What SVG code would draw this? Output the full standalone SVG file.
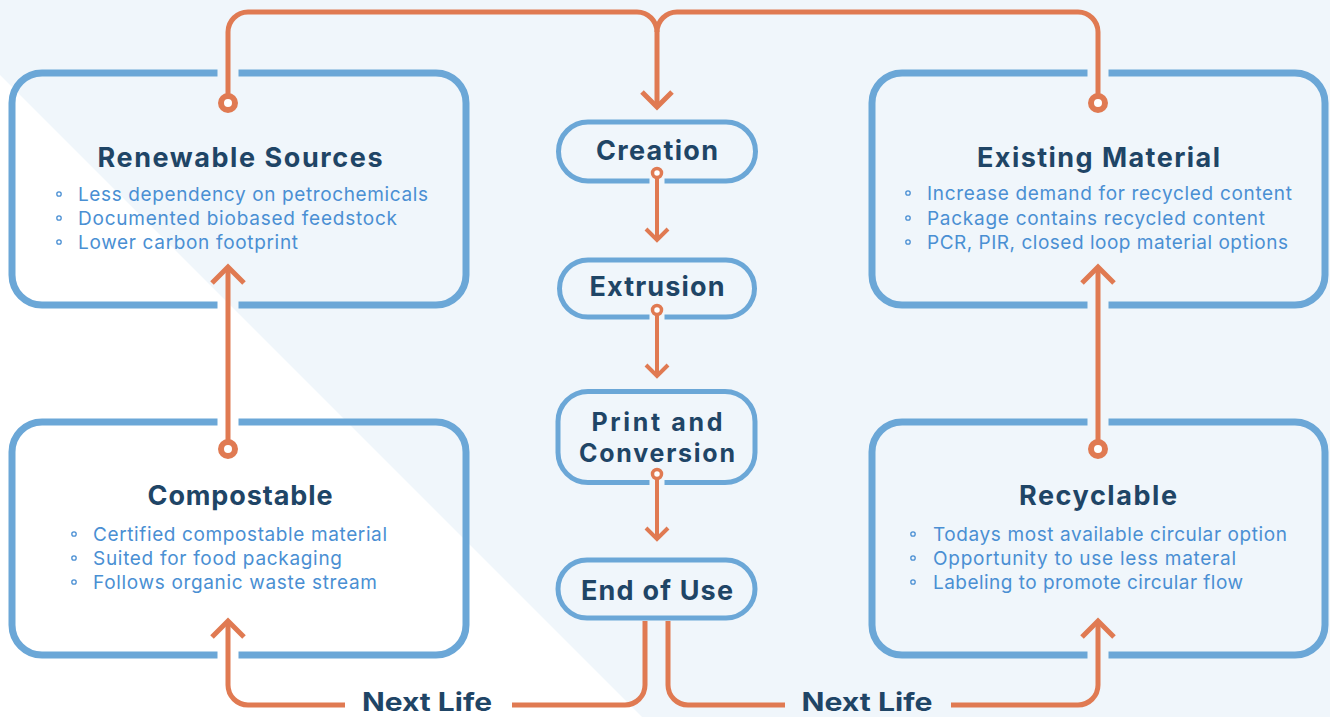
<svg xmlns="http://www.w3.org/2000/svg" width="1330" height="717" viewBox="0 0 1330 717">
<style>
.box{fill:none;stroke:#6ba7d7;stroke-width:7;stroke-linecap:butt}
.pill{fill:none;stroke:#6ba7d7;stroke-width:5}
.con{fill:none;stroke:#e07a52;stroke-width:5;stroke-linecap:butt;stroke-linejoin:miter}
.con4{fill:none;stroke:#e07a52;stroke-width:4;stroke-linejoin:miter}
.dot{fill:#ffffff;stroke:#e07a52;stroke-width:6}
.sdot{fill:#ffffff;stroke:#e07a52;stroke-width:3.5}
.title{font-family:Inter,"Liberation Sans",sans-serif;font-weight:700;font-size:27px;fill:#1f4566;text-anchor:middle}
.ptitle{font-family:Inter,"Liberation Sans",sans-serif;font-weight:700;font-size:25px;fill:#1f4566;text-anchor:middle}
.ntext{font-family:Inter,"Liberation Sans",sans-serif;font-weight:700;font-size:25px;fill:#1f4566;text-anchor:middle}
.bul{font-family:Inter,"Liberation Sans",sans-serif;font-size:19px;fill:#4a8fd3}
.bdot{fill:none;stroke:#4a8fd3;stroke-width:1.3}
</style>
<rect x="0" y="0" width="1330" height="717" fill="#f0f6fb"/>
<polygon points="0,75 642,717 0,717" fill="#ffffff"/>

<g id="connectors">
  <path class="con" d="M228,103 V32 A20,20 0 0 1 248,12 H637 A20,20 0 0 1 657,32 V106"/>
  <path class="con" d="M1098,103 V32 A20,20 0 0 0 1078,12 H677 A20,20 0 0 0 657,32"/>
  <polyline class="con" points="642,92 657,107 672,92"/>

  <path class="con4" d="M657,173 V239"/>
  <polyline class="con4" points="646,229 657,240 668,229"/>
  <path class="con4" d="M657,310 V375"/>
  <polyline class="con4" points="646,365 657,376 668,365"/>
  <path class="con4" d="M657,474 V538"/>
  <polyline class="con4" points="646,528 657,539 668,528"/>

  <path class="con" d="M228,449 V268"/>
  <polyline class="con" points="212,283 228,267 244,283"/>
  <path class="con" d="M1098,449 V268"/>
  <polyline class="con" points="1082,283 1098,267 1114,283"/>

  <path class="con" d="M645,621 V685 A20,20 0 0 1 625,705 H512 M345,705 H248 A20,20 0 0 1 228,685 V621"/>
  <polyline class="con" points="212,637 228,621 244,637"/>
  <path class="con" d="M668,621 V685 A20,20 0 0 0 688,705 H785 M951,705 H1078 A20,20 0 0 0 1098,685 V621"/>
  <polyline class="con" points="1082,637 1098,621 1114,637"/>

  <text class="ntext" x="427" y="711" textLength="130" lengthAdjust="spacingAndGlyphs">Next Life</text>
  <text class="ntext" x="867" y="711" textLength="131" lengthAdjust="spacingAndGlyphs">Next Life</text>
</g>

<g id="renewable">
  <path class="box" d="M238.5,73 H436 A30,30 0 0 1 466,103 V275 A30,30 0 0 1 436,305 H238.5 M217.5,305 H42 A30,30 0 0 1 12,275 V103 A30,30 0 0 1 42,73 H217.5"/>
  <circle class="dot" cx="228" cy="103" r="7"/>
  <text class="title" x="240" y="167" textLength="285">Renewable Sources</text>
  <circle class="bdot" cx="59" cy="194" r="2.2"/>
  <circle class="bdot" cx="59" cy="218" r="2.2"/>
  <circle class="bdot" cx="59" cy="242" r="2.2"/>
  <text class="bul" x="78" y="201" textLength="350">Less dependency on petrochemicals</text>
  <text class="bul" x="78" y="225" textLength="319">Documented biobased feedstock</text>
  <text class="bul" x="78" y="249" textLength="220">Lower carbon footprint</text>
</g>

<g id="existing">
  <path class="box" d="M1108.5,73 H1295 A30,30 0 0 1 1325,103 V275 A30,30 0 0 1 1295,305 H1108.5 M1087.5,305 H902 A30,30 0 0 1 872,275 V103 A30,30 0 0 1 902,73 H1087.5"/>
  <circle class="dot" cx="1098" cy="103" r="7"/>
  <text class="title" x="1098.5" y="167" textLength="243">Existing Material</text>
  <circle class="bdot" cx="908" cy="193" r="2.2"/>
  <circle class="bdot" cx="908" cy="218" r="2.2"/>
  <circle class="bdot" cx="908" cy="242" r="2.2"/>
  <text class="bul" x="927" y="200" textLength="365">Increase demand for recycled content</text>
  <text class="bul" x="927" y="225" textLength="338">Package contains recycled content</text>
  <text class="bul" x="927" y="249" textLength="361">PCR, PIR, closed loop material options</text>
</g>

<g id="compostable">
  <path class="box" d="M238.5,422 H436 A30,30 0 0 1 466,452 V625 A30,30 0 0 1 436,655 H238.5 M217.5,655 H42 A30,30 0 0 1 12,625 V452 A30,30 0 0 1 42,422 H217.5"/>
  <circle class="dot" cx="228" cy="449" r="7"/>
  <text class="title" x="240" y="505" textLength="185">Compostable</text>
  <circle class="bdot" cx="74" cy="534" r="2.2"/>
  <circle class="bdot" cx="74" cy="558" r="2.2"/>
  <circle class="bdot" cx="74" cy="582" r="2.2"/>
  <text class="bul" x="93" y="541" textLength="294">Certified compostable material</text>
  <text class="bul" x="93" y="565" textLength="249">Suited for food packaging</text>
  <text class="bul" x="93" y="589" textLength="284">Follows organic waste stream</text>
</g>

<g id="recyclable">
  <path class="box" d="M1108.5,422 H1295 A30,30 0 0 1 1325,452 V625 A30,30 0 0 1 1295,655 H1108.5 M1087.5,655 H902 A30,30 0 0 1 872,625 V452 A30,30 0 0 1 902,422 H1087.5"/>
  <circle class="dot" cx="1098" cy="449" r="7"/>
  <text class="title" x="1098" y="505" textLength="158">Recyclable</text>
  <circle class="bdot" cx="913" cy="534" r="2.2"/>
  <circle class="bdot" cx="913" cy="558" r="2.2"/>
  <circle class="bdot" cx="913" cy="582" r="2.2"/>
  <text class="bul" x="933" y="541" textLength="354">Todays most available circular option</text>
  <text class="bul" x="933" y="565" textLength="303">Opportunity to use less materal</text>
  <text class="bul" x="933" y="589" textLength="310">Labeling to promote circular flow</text>
</g>

<g id="creation">
  <path class="pill" d="M664.5,181 H726 A29.5,29.5 0 0 0 726,122 H588 A29.5,29.5 0 0 0 588,181 H649.5"/>
  <circle class="sdot" cx="657" cy="173" r="4.5"/>
  <text class="title" x="657" y="160" textLength="122">Creation</text>
</g>

<g id="extrusion">
  <path class="pill" d="M664.5,317 H726 A28.5,28.5 0 0 0 726,260 H588 A28.5,28.5 0 0 0 588,317 H649.5"/>
  <circle class="sdot" cx="657" cy="310" r="4.5"/>
  <text class="title" x="657" y="296" textLength="135">Extrusion</text>
</g>

<g id="print">
  <path class="pill" d="M664.5,482.5 H725 A30,30 0 0 0 755,452.5 V421.5 A30,30 0 0 0 725,391.5 H588 A30,30 0 0 0 558,421.5 V452.5 A30,30 0 0 0 588,482.5 H649.5"/>
  <circle class="sdot" cx="657" cy="474" r="4.5"/>
  <text class="ptitle" x="657" y="430.5" textLength="131">Print and</text>
  <text class="ptitle" x="657" y="461.5" textLength="156">Conversion</text>
</g>

<g id="end">
  <rect class="pill" x="558" y="560" width="197" height="58" rx="29"/>
  <text class="title" x="657" y="600" textLength="152">End of Use</text>
</g>
</svg>
